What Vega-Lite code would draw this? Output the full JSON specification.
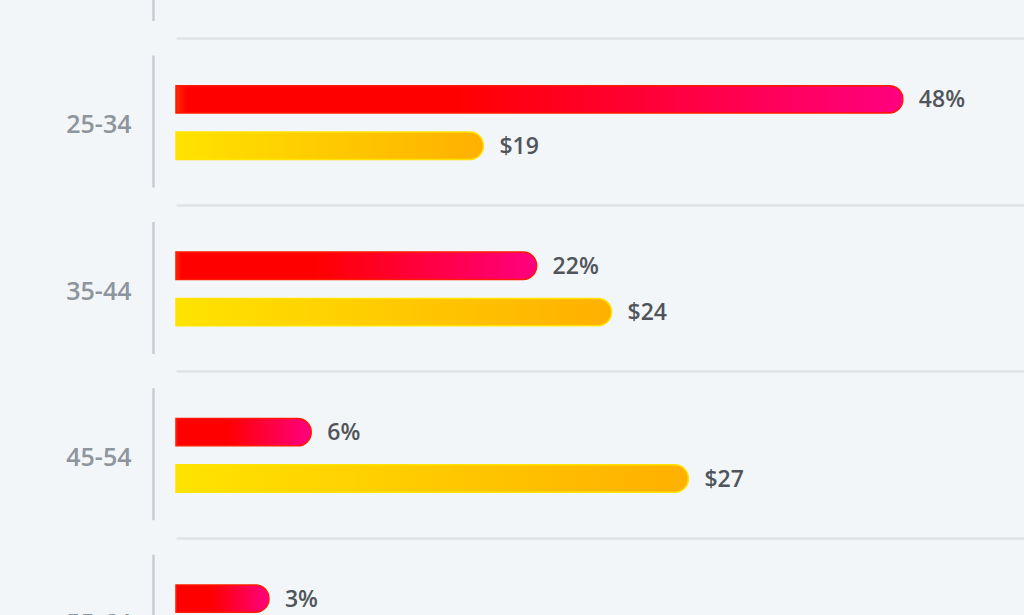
{
  "$schema": "https://vega.github.io/schema/vega-lite/v6.json",
  "width": 848,
  "height": 832,
  "autosize": {"type": "none"},
  "padding": {"left": 176, "top": -128, "right": 0, "bottom": -89},
  "background": "#f3f6f9",
  "config": {
    "view": {"stroke": null},
    "font": "Open Sans"
  },
  "data": {
    "values": [
      {"age": "25-34", "series": "share", "value": 48, "label": "48%"},
      {"age": "25-34", "series": "spend", "value": 19, "label": "$19"},
      {"age": "35-44", "series": "share", "value": 22, "label": "22%"},
      {"age": "35-44", "series": "spend", "value": 24, "label": "$24"},
      {"age": "45-54", "series": "share", "value": 6, "label": "6%"},
      {"age": "45-54", "series": "spend", "value": 27, "label": "$27"},
      {"age": "55-64", "series": "share", "value": 3, "label": "3%"}
    ]
  },
  "encoding": {
    "y": {
      "field": "age",
      "type": "nominal",
      "scale": {
        "domain": ["18-24", "25-34", "35-44", "45-54", "55-64"],
        "paddingInner": 0,
        "paddingOuter": 0
      },
      "axis": {
        "title": null,
        "offset": 23,
        "ticks": false,
        "tickSize": 0,
        "tickBand": "extent",
        "labelExpr": "datum.label == '18-24' ? '' : datum.label",
        "labelPadding": 22,
        "labelOffset": 3,
        "labelFont": "Open Sans",
        "labelFontSize": 25,
        "labelFontWeight": 600,
        "labelColor": "#8d959d",
        "domainColor": "#c8cdd2",
        "domainWidth": 2.5,
        "domainDash": [132, 34.4],
        "domainDashOffset": 149.8,
        "grid": true,
        "gridColor": "#dfe3e6",
        "gridWidth": 2.5
      }
    },
    "yOffset": {
      "field": "series",
      "type": "nominal",
      "scale": {
        "domain": ["share", "spend"],
        "paddingInner": 0.41,
        "paddingOuter": 1.015,
        "align": 0.51
      }
    }
  },
  "layer": [
    {
      "transform": [{"filter": "datum.series == 'share'"}],
      "encoding": {
        "x": {
          "field": "value",
          "type": "quantitative",
          "scale": {"domain": [-3.6, 56.6], "zero": false, "nice": false},
          "axis": null
        }
      },
      "layer": [
        {
          "mark": {
            "type": "bar",
            "cornerRadiusTopRight": 13.5,
            "cornerRadiusBottomRight": 13.5,
            "stroke": "#ff1a00",
            "strokeWidth": 1.5,
            "color": {
              "gradient": "linear",
              "x1": 0, "y1": 0, "x2": 1, "y2": 0,
              "stops": [
                {"offset": 0, "color": "#ff2a00"},
                {"offset": 0.015, "color": "#ff0000"},
                {"offset": 0.38, "color": "#ff0000"},
                {"offset": 1, "color": "#ff0080"}
              ]
            }
          },
          "encoding": {"x2": {"datum": -3.6}}
        },
        {
          "mark": {
            "type": "text",
            "align": "left",
            "baseline": "middle",
            "dx": 16,
            "dy": 1,
            "font": "Open Sans",
            "fontSize": 23,
            "fontWeight": 600,
            "color": "#50555b"
          },
          "encoding": {"text": {"field": "label"}}
        }
      ]
    },
    {
      "transform": [{"filter": "datum.series == 'spend'"}],
      "encoding": {
        "x": {
          "field": "value",
          "type": "quantitative",
          "scale": {"domain": [7, 40.1], "zero": false, "nice": false},
          "axis": null
        }
      },
      "layer": [
        {
          "mark": {
            "type": "bar",
            "cornerRadiusTopRight": 13.5,
            "cornerRadiusBottomRight": 13.5,
            "stroke": "#ffe300",
            "strokeWidth": 1.5,
            "color": {
              "gradient": "linear",
              "x1": 0, "y1": 0, "x2": 1, "y2": 0,
              "stops": [
                {"offset": 0, "color": "#ffe300"},
                {"offset": 1, "color": "#ffb000"}
              ]
            }
          },
          "encoding": {"x2": {"datum": 7}}
        },
        {
          "mark": {
            "type": "text",
            "align": "left",
            "baseline": "middle",
            "dx": 16,
            "dy": 1,
            "font": "Open Sans",
            "fontSize": 23,
            "fontWeight": 600,
            "color": "#50555b"
          },
          "encoding": {"text": {"field": "label"}}
        }
      ]
    }
  ],
  "resolve": {"scale": {"x": "independent"}}
}
